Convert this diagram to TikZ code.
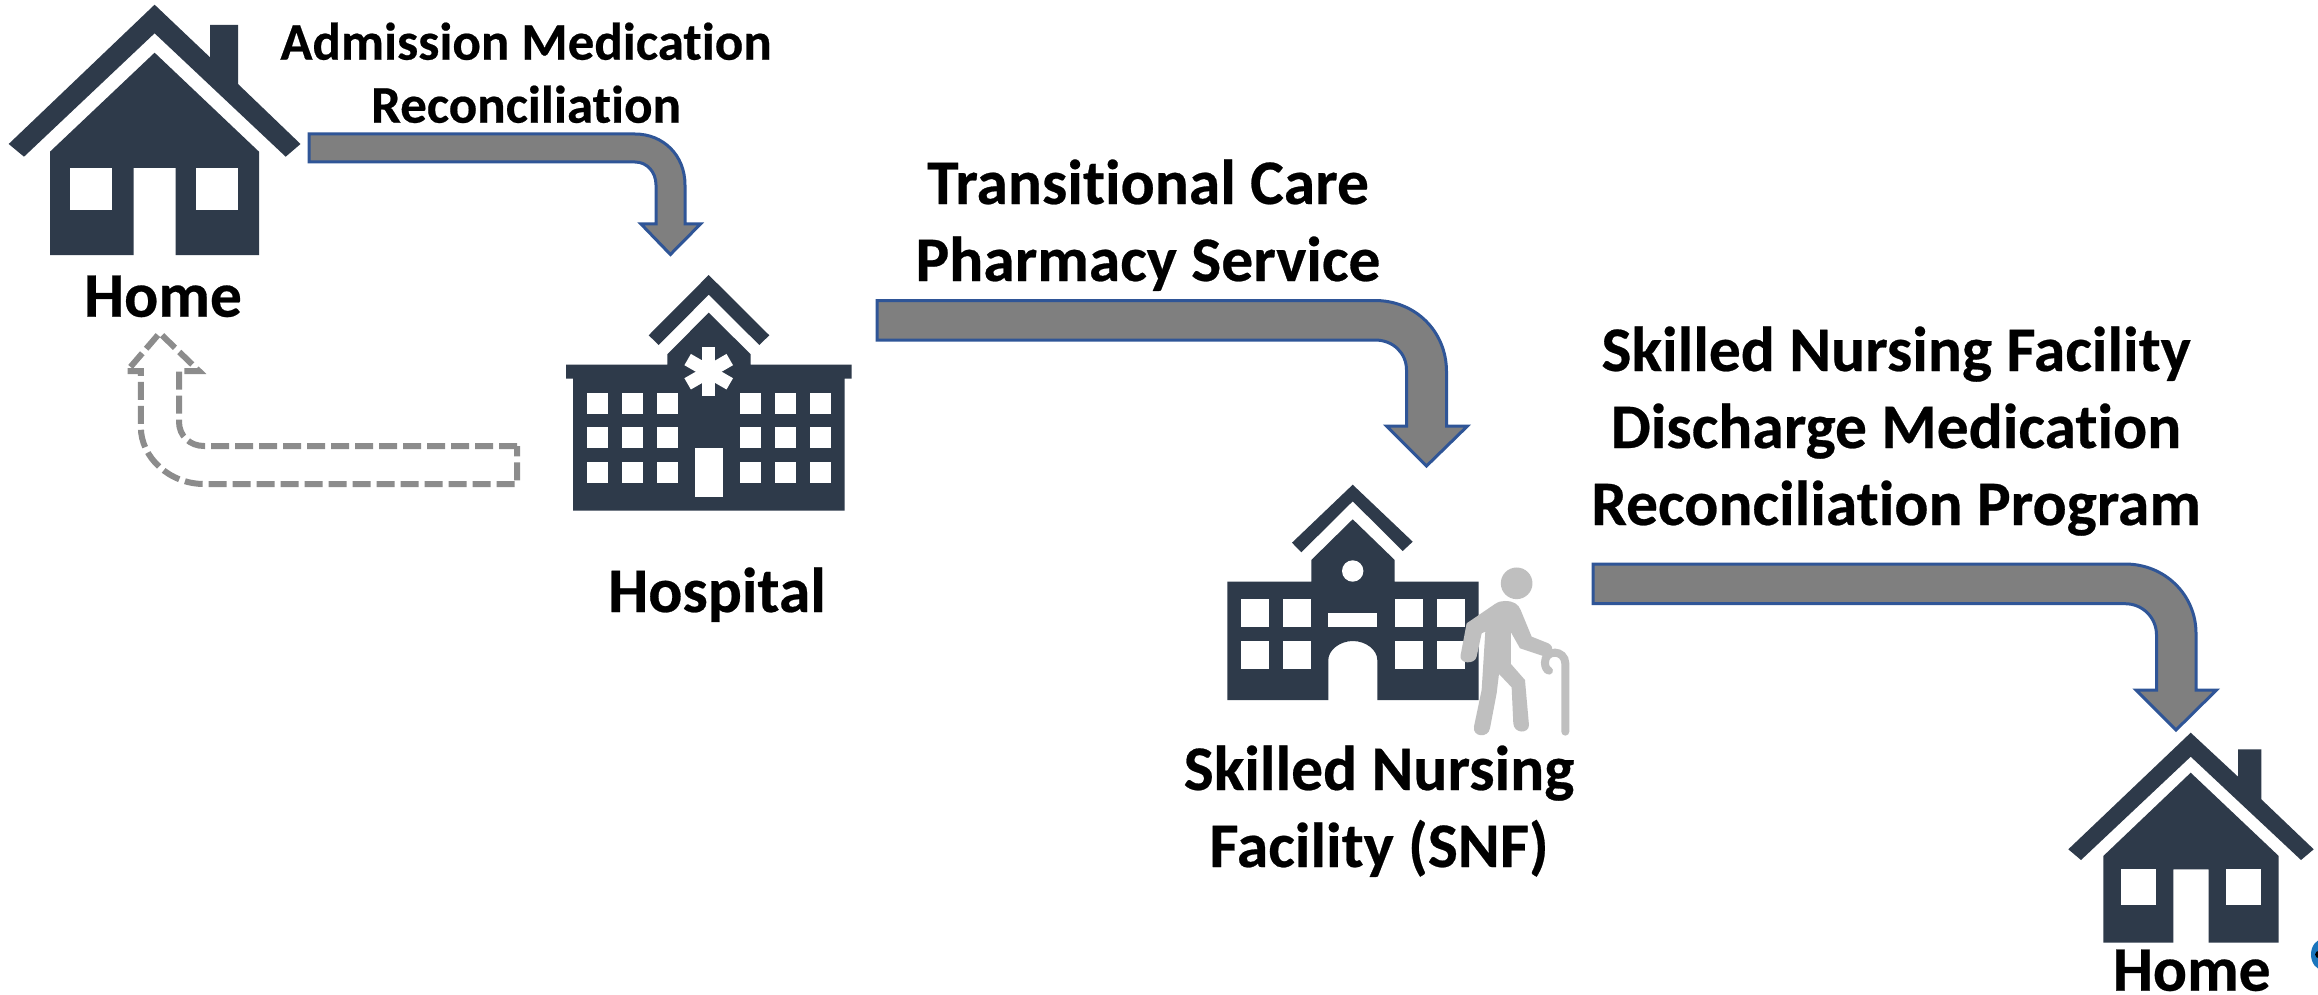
\documentclass[tikz,border=0pt]{standalone}
\usepackage{fontspec}
\setmainfont{Carlito}[Ligatures=NoCommon,BoldFont={Carlito Bold},BoldFeatures={FakeBold=0.4,Ligatures=NoCommon}]
\definecolor{iconblue}{HTML}{2E3A4A}
\definecolor{arrowgray}{HTML}{7F7F7F}
\definecolor{arrowblue}{HTML}{2F5597}
\definecolor{dashgray}{HTML}{8C8C8C}
\definecolor{persongray}{HTML}{BFBFBF}
\definecolor{logoblue}{HTML}{1B75BC}
\tikzset{
  icon/.style={fill=iconblue,draw=none},
  hole/.style={fill=white,draw=none},
  bent/.style={fill=arrowgray,draw=arrowblue,line width=3pt,line join=miter,miter limit=8},
  bentdash/.style={draw=dashgray,line width=6pt,dash pattern=on 18pt off 6pt,line join=miter},
  person/.style={fill=persongray,draw=none},
  big/.style={font=\fontsize{63.5}{77}\selectfont\bfseries,align=center,inner sep=0pt,anchor=base,text=black},
  small/.style={font=\fontsize{53}{63}\selectfont\bfseries,align=center,inner sep=0pt,anchor=base,text=black}
}
\begin{document}
\begin{tikzpicture}[x=1pt,y=-1pt]
\path[use as bounding box,fill=white] (0,0) rectangle (2318,995);
\begin{scope}
\clip (0,0) rectangle (2318,995);
% Home 1
\fill[icon] (8.7,144) -- (154.6,4.7) -- (210,57.3) -- (210,25) -- (238,25) -- (238,84) -- (300.5,144) -- (285.7,156.7) -- (154.6,33.3) -- (24,156.7) -- cycle;
\fill[icon] (50,151.7) -- (154.6,52.7) -- (259,151.7) -- (259,255) -- (175.5,255) -- (175.5,168) -- (133.7,168) -- (133.7,255) -- (50,255) -- cycle;
\fill[hole] (70.4,168) rectangle (112.2,209.7);
\fill[hole] (196.4,168) rectangle (238.3,209.7);
% Arrow 1
\draw[bent] (309,134) -- (635,134) .. controls (663,134) and (685,155) .. (685,185) -- (685,224) -- (700.5,224) -- (670.4,254.5) -- (641,224) -- (656,224) -- (656,185) .. controls (656,172) and (647,162) .. (635,162) -- (309,162) -- cycle;
% Dashed arrow
\draw[bentdash] (517,446) -- (204,446) .. controls (190,446) and (179,436) .. (179,421.7) -- (179,371) -- (199,371) -- (159.7,333) -- (127,371) -- (140.8,371) -- (140.8,426.7) .. controls (140.8,458) and (170,484) .. (204,484) -- (517,484) -- cycle;
% Hospital
\fill[icon] (648.7,335.3) -- (708.7,275) -- (769.3,335.3) -- (759.3,345) -- (708.7,294.7) -- (658.7,345) -- cycle;
\fill[icon] (667.3,364.7) -- (667.3,354.3) -- (708.7,312.7) -- (750.7,354.3) -- (750.7,364.7) -- (851.7,364.7) -- (851.7,378.7) -- (844.7,378.7) -- (844.7,510.7) -- (573,510.7) -- (573,378.7) -- (566,378.7) -- (566,364.7) -- cycle;
\foreach \xa in {587,621.7,656.7,740,775,810}
  \foreach \ya in {392.7,427.3,462}
    \fill[hole] (\xa,\ya) rectangle ++(21,21);
\fill[hole] (695,448.3) rectangle (722.7,497);
\foreach \a in {0,60,120}
  \fill[hole,shift={(708.7,371.7)},rotate=\a] (-6.5,-24.3) rectangle (6.5,24.3);
% Arrow 2
\draw[bent] (877,300.5) -- (1375,300.5) .. controls (1415,300.5) and (1446.5,331) .. (1446.5,371.7) -- (1446.5,426) -- (1467.5,426) -- (1426.5,466) -- (1386.5,426) -- (1406.5,426) -- (1406.5,370) .. controls (1406.5,353) and (1393,340) .. (1375,340) -- (877,340) -- cycle;
% SNF building
\fill[icon] (1292,542.7) -- (1352.7,484.7) -- (1412.7,541.7) -- (1402.7,551) -- (1352.7,501.3) -- (1301.3,552.3) -- cycle;
\fill[icon] (1227.3,581.7) -- (1311.3,581.7) -- (1311.3,560) -- (1352.7,519.3) -- (1394.7,560) -- (1394.7,581.7) -- (1478.7,581.7) -- (1478.7,700) -- (1377.3,700) -- (1377.3,660) .. controls (1377.3,650) and (1366,641) .. (1352.8,641) .. controls (1340,641) and (1328.3,650) .. (1328.3,660) -- (1328.3,700) -- (1227.3,700) -- cycle;
\foreach \xa in {1241.3,1283.3,1394.7,1436.5}
  \foreach \ya in {599,641}
    \fill[hole] (\xa,\ya) rectangle ++(28,28);
\fill[hole] (1328.3,613) rectangle (1377.3,626.7);
\fill[hole] (1352.7,571) circle (10.7);
% Person
\begin{scope}[shift={(1180,460)},x=0.3333pt,y=-0.3333pt]
\fill[person] (1010,370) circle (47.5);
\fill[person] (975,423) .. controls (1000,423) and (1015,432) .. (1022,450) -- (1055,530) -- (1105,550) .. controls (1125,560) and (1122,590) .. (1095,590) -- (1020,565) -- (993,517) -- (993,612) -- (1035,660) -- (1047,795) .. controls (1047,822) and (1002,822) .. (1000,790) -- (995,682) -- (957,642) -- (950,700) -- (930,805) .. controls (925,835) and (877,832) .. (882,800) -- (905,690) -- (916,515) -- (905,520) -- (890,590) .. controls (885,615) and (835,612) .. (842,585) -- (860,490) -- (945,432) .. controls (955,425) and (965,423) .. (975,423) -- cycle;
\draw[persongray,line width=8pt,line cap=round] (1156,815) -- (1156,610) .. controls (1156,590) and (1140,578) .. (1125,578) .. controls (1105,578) and (1095,592) .. (1095,608) .. controls (1095,620) and (1100,630) .. (1107,632);
\end{scope}
% Arrow 3
\draw[bent] (1593,564) -- (2125,564) .. controls (2165,564) and (2196,595) .. (2196,633.3) -- (2196,690) -- (2216.5,690) -- (2176,730) -- (2136,690) -- (2156.5,690) -- (2156.5,635) .. controls (2156.5,618) and (2143,603.7) .. (2125,603.7) -- (1593,603.7) -- cycle;
% Home 2
\fill[icon] (2068.3,849.3) -- (2190.7,732.7) -- (2238,776.7) -- (2238,749.3) -- (2261.3,749.3) -- (2261.3,799.3) -- (2313.7,849.3) -- (2301,860) -- (2190.7,756.7) -- (2081,860) -- cycle;
\fill[icon] (2103.3,856) -- (2190.7,772.7) -- (2278.7,856) -- (2278.7,942.7) -- (2208.7,942.7) -- (2208.7,869.3) -- (2173.3,869.3) -- (2173.3,942.7) -- (2103.3,942.7) -- cycle;
\fill[hole] (2120.7,869.3) rectangle (2156,904.7);
\fill[hole] (2226,869.3) rectangle (2261.3,904.7);
% Cropped logo at the edge
\fill[logoblue] (2323,954.5) ellipse (12 and 15.5);
\fill[black] (2320,954.5) ellipse (5 and 4);
\end{scope}
% Labels
\node[small] (admit) at (526,122.7) {Admission Medication\\Reconciliation};
\node[big] (home1) at (163,316.7) {Home};
\node[big] (hosp) at (717,612) {Hospital};
\node[big] (tcp) at (1148,281) {Transitional Care\\Pharmacy Service};
\node[big] (snfprog) at (1896,525) {Skilled Nursing Facility\\Discharge Medication\\Reconciliation Program};
\node[big] (snf) at (1379,867) {Skilled Nursing\\Facility (SNF)};
\node[big] (home2) at (2191.7,990.7) {Home};
\end{tikzpicture}
\end{document}
